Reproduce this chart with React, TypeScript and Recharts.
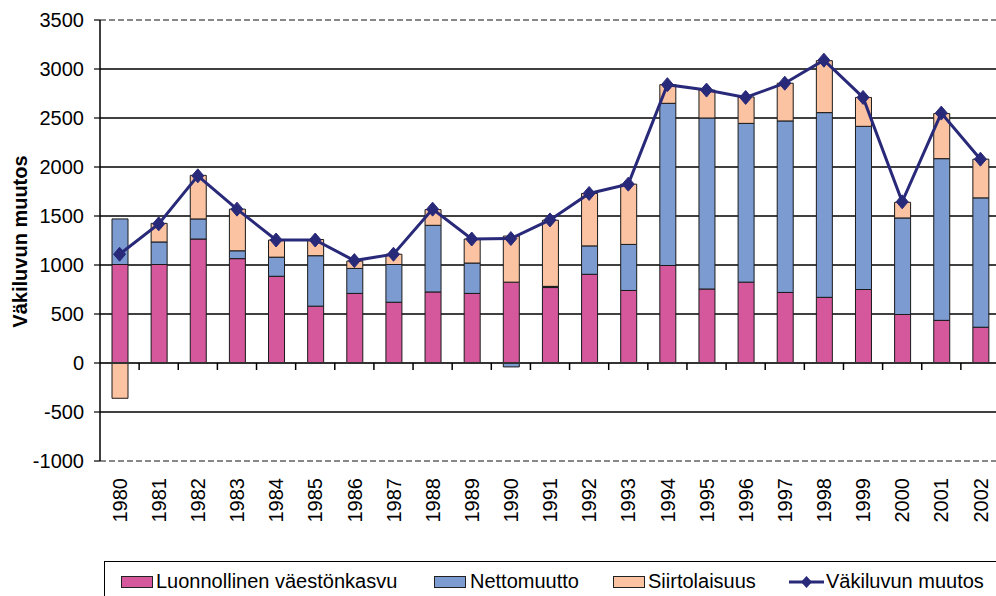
import React from 'react';
import { ComposedChart, Bar, Line, XAxis, YAxis, ReferenceLine, Legend, CartesianGrid } from 'recharts';

const years = ['1980', '1981', '1982', '1983', '1984', '1985', '1986', '1987', '1988', '1989', '1990', '1991', '1992', '1993', '1994', '1995', '1996', '1997', '1998', '1999', '2000', '2001', '2002'];
const natural = [1005, 1005, 1265, 1065, 885, 580, 710, 620, 725, 710, 825, 770, 905, 740, 995, 755, 825, 720, 670, 750, 495, 435, 365];
const netMigration = [465, 230, 205, 80, 195, 515, 255, 385, 680, 310, -40, 12, 290, 470, 1655, 1745, 1620, 1750, 1885, 1665, 985, 1650, 1320];
const emigration = [-360, 190, 445, 425, 175, 165, 75, 105, 160, 245, 470, 675, 535, 615, 190, 285, 270, 385, 530, 295, 160, 460, 395];
const change = [1110, 1420, 1910, 1570, 1255, 1255, 1045, 1110, 1570, 1265, 1270, 1460, 1730, 1825, 2840, 2785, 2710, 2855, 3090, 2710, 1645, 2550, 2080];
const yTicks = [-1000, -500, 0, 500, 1000, 1500, 2000, 2500, 3000, 3500];

const seriesNames = ['Luonnollinen väestönkasvu', 'Nettomuutto', 'Siirtolaisuus', 'Väkiluvun muutos'];
const seriesColors = ['#D5579C', '#7B9BD1', '#FBC3A1', '#29297A'];
const yTitle = 'Väkiluvun muutos';

const data = years.map((y, i) => ({
  year: y,
  natural: natural[i],
  net: netMigration[i],
  emig: emigration[i],
  change: change[i],
}));

const FONT = '"Liberation Sans", Arial, sans-serif';

const XTick = (props: any) => {
  const { x, y, payload } = props;
  return (
    <text
      x={x}
      y={y}
      transform={`rotate(-90, ${x}, ${y})`}
      textAnchor="end"
      dy="0.36em"
      fontSize={20}
      fontFamily={FONT}
      fill="#000"
    >
      {payload.value}
    </text>
  );
};

const Diamond = (props: any) => {
  const { cx, cy } = props;
  if (cx == null || cy == null) return null;
  return (
    <polygon
      points={`${cx},${cy - 7} ${cx + 6},${cy} ${cx},${cy + 7} ${cx - 6},${cy}`}
      fill={seriesColors[3]}
      stroke={seriesColors[3]}
      strokeWidth={1}
    />
  );
};

const ZeroAxis = (props: any) => {
  const { x1, y1, x2, y2 } = props;
  const n = years.length;
  const step = (x2 - x1) / n;
  return (
    <g>
      <line x1={x1} y1={y1} x2={x2} y2={y2} stroke="#333" strokeWidth={2} />
      {years.map((_, i) => (
        <line
          key={i}
          x1={x1 + step * (i + 1)}
          x2={x1 + step * (i + 1)}
          y1={y1}
          y2={y1 + 7}
          stroke="#000"
          strokeWidth={1.5}
        />
      ))}
    </g>
  );
};

const GridLine = (props: any) => {
  const { x1, y1, x2, y2, y, height } = props;
  const edge = Math.abs(y1 - y) < 0.5 || Math.abs(y1 - (y + height)) < 0.5;
  return (
    <line
      x1={x1}
      y1={y1}
      x2={x2}
      y2={y2}
      stroke={edge ? '#888' : '#000'}
      strokeWidth={edge ? 2 : 1.5}
      strokeDasharray={edge ? '6 3' : undefined}
    />
  );
};

const YTitle = (props: any) => {
  const { viewBox } = props;
  const cx = viewBox.x + 20;
  const cy = viewBox.y + viewBox.height / 2 + 1;
  return (
    <text
      x={cx}
      y={cy}
      transform={`rotate(-90, ${cx}, ${cy})`}
      textAnchor="middle"
      dy="0.36em"
      fontSize={20}
      fontWeight="bold"
      fontFamily={FONT}
      fill="#000"
    >
      {yTitle}
    </text>
  );
};

const swatchLefts = [16, 329, 508];
const textLefts = [51, 365, 543, 721];

const LegendBox = () => (
  <div
    style={{
      position: 'relative',
      width: 896,
      height: 35,
      boxSizing: 'border-box',
      borderTop: '1px solid #000',
      borderLeft: '1px solid #000',
      fontFamily: FONT,
      fontSize: 20,
      lineHeight: '20px',
      color: '#000',
      background: '#fff',
    }}
  >
    {swatchLefts.map((l, i) => (
      <div
        key={'s' + i}
        style={{
          position: 'absolute',
          left: l,
          top: 14,
          width: 32,
          height: 12,
          boxSizing: 'border-box',
          border: '1px solid #222',
          background: seriesColors[i],
        }}
      />
    ))}
    <svg style={{ position: 'absolute', left: 684, top: 13, overflow: 'visible' }} width={35} height={14}>
      <line x1={0} y1={7} x2={35} y2={7} stroke={seriesColors[3]} strokeWidth={3} />
      <polygon points="17.5,1 23,7 17.5,13 12,7" fill={seriesColors[3]} />
    </svg>
    {textLefts.map((l, i) => (
      <span key={'t' + i} style={{ position: 'absolute', left: l, top: 9, whiteSpace: 'nowrap' }}>
        {seriesNames[i]}
      </span>
    ))}
  </div>
);

export default function App() {
  return (
    <div
      style={{
        position: 'absolute',
        left: 0,
        top: 0,
        width: 996,
        height: 596,
        overflow: 'hidden',
        background: '#fff',
      }}
    >
      <ComposedChart
        width={1000}
        height={596}
        data={data}
        stackOffset="sign"
        barCategoryGap={0}
        margin={{ top: 20, right: 0, left: 0, bottom: 0 }}
      >
        <CartesianGrid vertical={false} horizontal={(p: any) => <GridLine key={p.key} {...p} />} />
        <XAxis
          dataKey="year"
          interval={0}
          height={100}
          axisLine={false}
          tickLine={false}
          tickSize={0}
          tickMargin={17}
          tick={<XTick />}
        />
        <YAxis
          type="number"
          domain={[yTicks[0], yTicks[yTicks.length - 1]]}
          ticks={yTicks}
          interval={0}
          width={100}
          allowDataOverflow
          axisLine={{ stroke: '#000', strokeWidth: 1.5 }}
          tickLine={{ stroke: '#000', strokeWidth: 1.2 }}
          tickSize={6}
          tickMargin={10}
          tick={{ fontSize: 20, fontFamily: FONT, fill: '#000' }}
          label={<YTitle />}
        />
        <Bar dataKey="natural" stackId="a" fill={seriesColors[0]} stroke="#1a1a1a" strokeWidth={1} barSize={16} isAnimationActive={false} name={seriesNames[0]} />
        <Bar dataKey="net" stackId="a" fill={seriesColors[1]} stroke="#1a1a1a" strokeWidth={1} barSize={16} isAnimationActive={false} name={seriesNames[1]} />
        <Bar dataKey="emig" stackId="a" fill={seriesColors[2]} stroke="#1a1a1a" strokeWidth={1} barSize={16} isAnimationActive={false} name={seriesNames[2]} />
        <ReferenceLine y={0} shape={<ZeroAxis />} />
        <Line
          type="linear"
          dataKey="change"
          stroke={seriesColors[3]}
          strokeWidth={3}
          dot={<Diamond />}
          activeDot={false}
          isAnimationActive={false}
          name={seriesNames[3]}
        />
        <Legend verticalAlign="bottom" wrapperStyle={{ left: 104, bottom: 0, width: 896 }} content={<LegendBox />} />
      </ComposedChart>
    </div>
  );
}
